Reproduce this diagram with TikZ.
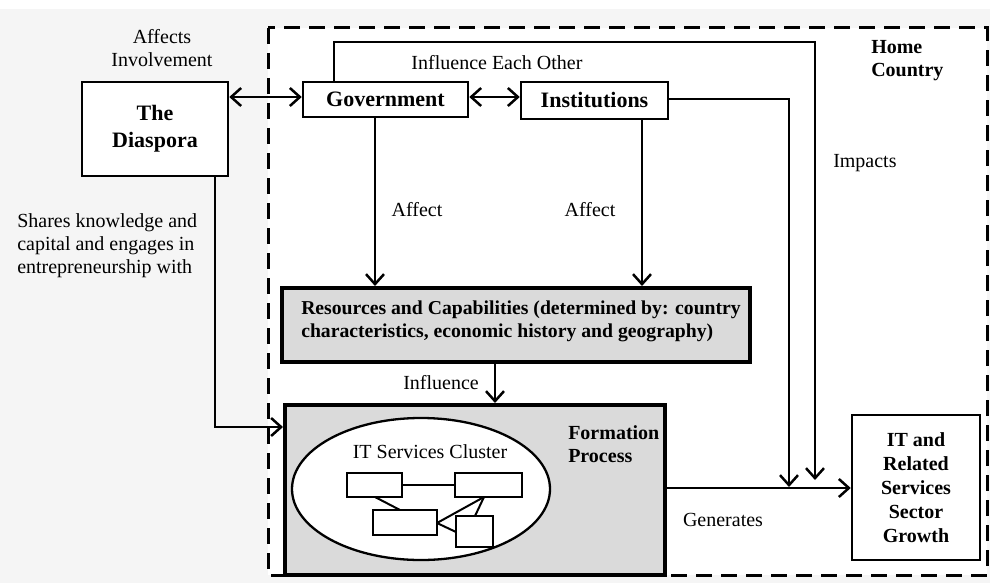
\documentclass[tikz,border=0pt]{standalone}
\usepackage{fontspec}
\setmainfont{Liberation Serif}
\usetikzlibrary{arrows.meta,shapes.geometric}
\definecolor{grayfill}{RGB}{218,218,218}
\definecolor{bgout}{RGB}{245,245,245}
\begin{document}
\begin{tikzpicture}[x=1pt,y=-1pt,
  line width=2.5pt,
  >={Straight Barb[length=10pt,width=18pt]},
  box/.style={draw,line width=2.5pt,fill=white,inner sep=0pt,align=center,font=\fontsize{22}{27}\selectfont\bfseries},
  heavybox/.style={draw,line width=4pt,fill=grayfill,inner sep=0pt},
  lbl/.style={font=\fontsize{20}{23}\selectfont,inner sep=0pt},
  blbl/.style={font=\fontsize{20}{23}\selectfont\bfseries,inner sep=0pt},
  mini/.style={draw,line width=2.3pt,fill=white,inner sep=0pt},
  conn/.style={line width=2.5pt},
  minic/.style={line width=2pt},
  ]
\useasboundingbox (0,0) rectangle (990,583);
\fill[bgout] (0,9) rectangle (990,583);
\fill[white] (268,28) rectangle (987,575);
\draw[line width=3pt,dash pattern=on 16pt off 9pt] (268,28) rectangle (987,575);

% top labels
\node[lbl,align=center] (affinv) at (162,48) {Affects\\Involvement};
\node[lbl] (ieo) at (497,63) {Influence Each Other};
\node[blbl,align=left,anchor=west] (home) at (870,61) {Home\\Country};
\node[lbl,anchor=west] (imp) at (832,163) {Impacts};
\node[lbl,align=left,anchor=west] (shares) at (16,246) {Shares knowledge and\\capital and engages in\\entrepreneurship with};

% boxes
\node[box,minimum width=146pt,minimum height=94pt] (dia) at (155,129) {The\\Diaspora};
\node[box,minimum width=165pt,minimum height=35pt] (gov) at (385.5,99.5) {Government};
\node[box,minimum width=147pt,minimum height=37pt] (inst) at (594.5,100.5) {Institutions};
\node[heavybox,minimum width=468pt,minimum height=74pt] (res) at (516,325) {};
\node[font=\fontsize{19.7}{23}\selectfont\bfseries,align=left,anchor=west,inner sep=0pt] (restext) at (300,321) {Resources and Capabilities (determined by: country\\characteristics, economic history and geography)};
\node[heavybox,minimum width=380pt,minimum height=170pt] (form) at (475,490) {};
\node[box,minimum width=128pt,minimum height=145pt,font=\fontsize{20}{24}\selectfont\bfseries] (itg) at (916,487.5) {IT and\\Related\\Services\\Sector\\Growth};
\node[blbl,align=left,anchor=west] (formtext) at (567,444) {Formation\\Process};

% cluster
\node[draw,ellipse,line width=2.3pt,fill=white,minimum width=258pt,minimum height=142pt,inner sep=0pt] (ell) at (421,489) {};
\node[lbl] (itsc) at (430,452) {IT Services Cluster};
\node[mini,minimum width=55pt,minimum height=24pt] (b1) at (374.5,485) {};
\node[mini,minimum width=67pt,minimum height=24pt] (b2) at (488.5,485) {};
\node[mini,minimum width=64pt,minimum height=25pt] (b3) at (405,522.5) {};
\node[mini,minimum width=37pt,minimum height=31pt] (b4) at (474.5,531.5) {};
\coordinate (b1b) at (375,497);
\coordinate (b3t) at (400,510);
\coordinate (b2b) at (484,497);
\coordinate (b3r) at (437,523);
\coordinate (b4t) at (475,516);
\coordinate (b4l) at (456,532);
\draw[minic] (b1.east) -- (b2.west);
\draw[minic] (b1b) -- (b3t);
\draw[minic] (b2b) -- (b3r);
\draw[minic] (b2b) -- (b4t);
\draw[minic] (b3r) -- (b4l);

% middle labels
\node[lbl] (aff1) at (417,210) {Affect};
\node[lbl] (aff2) at (590,210) {Affect};
\node[lbl] (infl) at (441,383) {Influence};
\node[lbl] (gen) at (723,520) {Generates};

% connectors
\coordinate (govtop) at (334,82);
\coordinate (c1) at (334,42);
\coordinate (c2) at (815,42);
\coordinate (c3) at (815,480);
\coordinate (c4) at (789,99);
\coordinate (c5) at (789,487);
\coordinate (d1) at (215,176);
\coordinate (d2) at (215,427);
\coordinate (d3) at (285,427);
\coordinate (fr) at (665,488);
\coordinate (il) at (852,488);

\draw[conn,<->] (dia.east |- 0,97) -- (gov.west |- 0,97);
\draw[conn,<->] (gov.east |- 0,97) -- (inst.west |- 0,97);
\draw[conn,->] (govtop) -- (c1) -- (c2) -- (c3);
\draw[conn,->] (inst.east |- c4) -- (c4) -- (c5);
\draw[conn,->] (gov.south -| 375,0) -- (res.north -| 375,0);
\draw[conn,->] (inst.south -| 642,0) -- (res.north -| 642,0);
\draw[conn,->] (res.south -| 495,0) -- (form.north -| 495,0);
\draw[conn,->] (d1) -- (d2) -- (form.west |- d3);
\draw[conn,->] (form.east |- fr) -- (itg.west |- il);
\end{tikzpicture}
\end{document}
